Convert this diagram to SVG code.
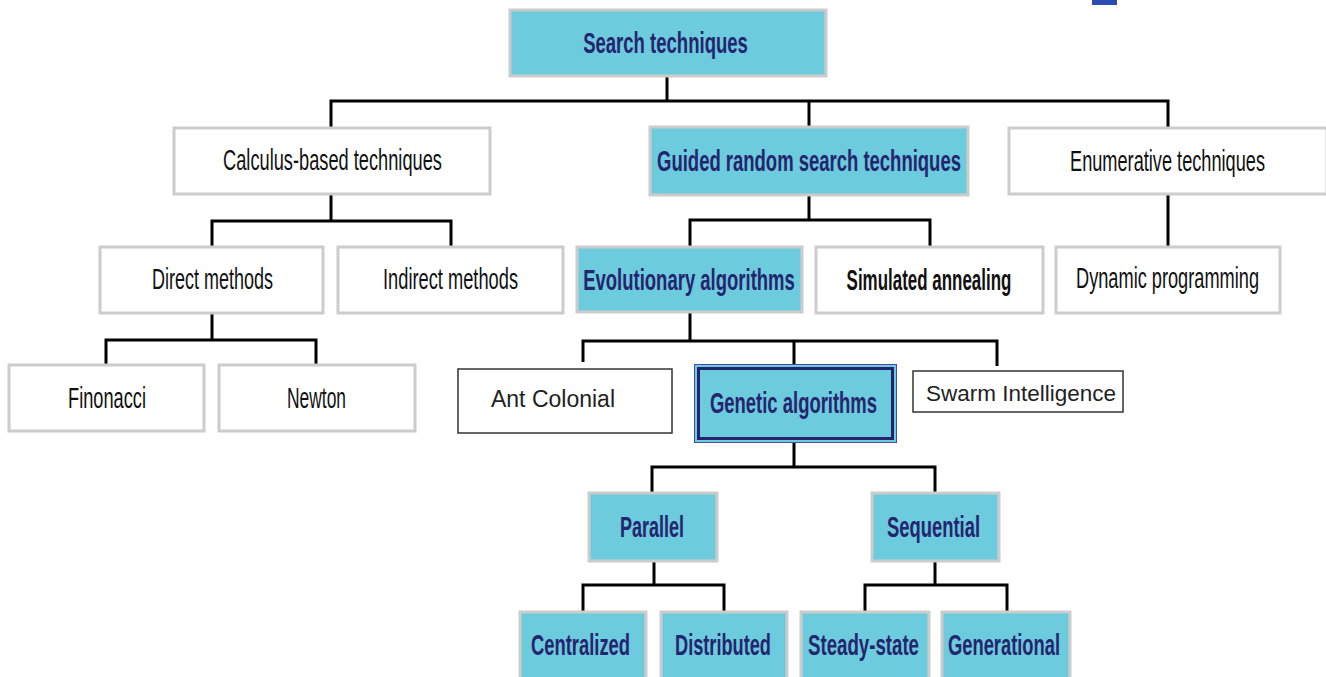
<svg xmlns="http://www.w3.org/2000/svg" width="1326" height="677" viewBox="0 0 1326 677">
  <defs>
    <style>
      .box-w { fill: #ffffff; stroke: #cccccc; stroke-width: 3; }
      .box-c { fill: #6ccbdc; stroke: #cccccc; stroke-width: 3; }
      .box-t { fill: #ffffff; stroke: #333333; stroke-width: 1.5; }
      text { font-family: "Liberation Sans", Arial, sans-serif; text-anchor: middle; }
      .lbl { font-size: 30px; fill: #111111; }
      .lbl-b { font-size: 30px; font-weight: bold; fill: #25256f; }
      .lbl-k { font-size: 30px; font-weight: bold; fill: #111111; }
      .lbl-r { fill: #222222; }
      .wire { fill: none; stroke: #000000; stroke-width: 3; stroke-linejoin: miter; }
    </style>
  </defs>
  <rect width="1326" height="677" fill="#ffffff"/>

  <!-- small corner mark -->
  <rect x="1092" y="0" width="25" height="5" fill="#2b4db2"/>

  <g id="connectors">
    <path class="wire" d="M667 76 V101"/>
    <path class="wire" d="M331 127 V101 H1168 V127"/>
    <path class="wire" d="M809 101 V127"/>
    <path class="wire" d="M331 194 V221"/>
    <path class="wire" d="M212 247 V221 H451 V247"/>
    <path class="wire" d="M809 195 V220"/>
    <path class="wire" d="M690 247 V220 H930 V247"/>
    <path class="wire" d="M1168 194 V247"/>
    <path class="wire" d="M212 313 V340"/>
    <path class="wire" d="M106 365 V340 H316 V365"/>
    <path class="wire" d="M690 312 V341"/>
    <path class="wire" d="M583 362 V341 H997 V366"/>
    <path class="wire" d="M794 341 V364"/>
    <path class="wire" d="M794 443 V467"/>
    <path class="wire" d="M652 493 V467 H935 V493"/>
    <path class="wire" d="M654 561 V585"/>
    <path class="wire" d="M583 612 V585 H724 V612"/>
    <path class="wire" d="M935 561 V585"/>
    <path class="wire" d="M865 612 V585 H1007 V612"/>
  </g>

  <!-- condensed labels: 30px type squeezed horizontally -->
  <g id="search-techniques">
    <rect class="box-c" x="510" y="10" width="316" height="66"/>
    <text class="lbl-b" transform="translate(665.5 53) scale(0.618 1)">Search techniques</text>
  </g>

  <g id="calculus-based">
    <rect class="box-w" x="174" y="128" width="316" height="66"/>
    <text class="lbl" transform="translate(332.5 170) scale(0.608 1)">Calculus-based techniques</text>
  </g>

  <g id="guided-random">
    <rect class="box-c" x="650" y="127" width="318" height="68"/>
    <text class="lbl-b" transform="translate(809 171) scale(0.616 1)">Guided random search techniques</text>
  </g>

  <g id="enumerative">
    <rect class="box-w" x="1009" y="128" width="318" height="66"/>
    <text class="lbl" transform="translate(1167.5 171) scale(0.606 1)">Enumerative techniques</text>
  </g>

  <g id="direct-methods">
    <rect class="box-w" x="100" y="247" width="223" height="66"/>
    <text class="lbl" transform="translate(212.5 289) scale(0.6 1)">Direct methods</text>
  </g>

  <g id="indirect-methods">
    <rect class="box-w" x="338" y="247" width="225" height="66"/>
    <text class="lbl" transform="translate(450.5 289) scale(0.609 1)">Indirect methods</text>
  </g>

  <g id="evolutionary">
    <rect class="box-c" x="577" y="247" width="225" height="65"/>
    <text class="lbl-b" transform="translate(689 290) scale(0.617 1)">Evolutionary algorithms</text>
  </g>

  <g id="simulated-annealing">
    <rect class="box-w" x="816" y="247" width="227" height="66"/>
    <text class="lbl-k" transform="translate(929 290) scale(0.565 1)">Simulated annealing</text>
  </g>

  <g id="dynamic-programming">
    <rect class="box-w" x="1056" y="247" width="224" height="66"/>
    <text class="lbl" transform="translate(1167.5 288) scale(0.607 1)">Dynamic programming</text>
  </g>

  <g id="finonacci">
    <rect class="box-w" x="9" y="365" width="195" height="66"/>
    <text class="lbl" transform="translate(107 408) scale(0.608 1)">Finonacci</text>
  </g>

  <g id="newton">
    <rect class="box-w" x="219" y="365" width="196" height="66"/>
    <text class="lbl" transform="translate(316.5 408) scale(0.58 1)">Newton</text>
  </g>

  <g id="ant-colonial">
    <rect class="box-t" x="458" y="369" width="214" height="64"/>
    <text class="lbl-r" x="553" y="407" font-size="23">Ant Colonial</text>
  </g>

  <g id="genetic-algorithms">
    <rect x="694.5" y="364.5" width="202" height="78" fill="#6ccbdc" stroke="#4a4aa8" stroke-width="1"/>
    <rect x="698.5" y="368.5" width="194" height="70" fill="none" stroke="#23236e" stroke-width="3"/>
    <text class="lbl-b" transform="translate(793.5 413) scale(0.615 1)">Genetic algorithms</text>
  </g>

  <g id="swarm-intelligence">
    <rect class="box-t" x="913" y="371" width="210" height="41"/>
    <text class="lbl-r" x="1021" y="401" font-size="22.5">Swarm Intelligence</text>
  </g>

  <g id="parallel">
    <rect class="box-c" x="589" y="493" width="128" height="68"/>
    <text class="lbl-b" transform="translate(652 537) scale(0.6 1)">Parallel</text>
  </g>

  <g id="sequential">
    <rect class="box-c" x="872" y="493" width="127" height="68"/>
    <text class="lbl-b" transform="translate(933.5 537) scale(0.613 1)">Sequential</text>
  </g>

  <g id="centralized">
    <rect class="box-c" x="520" y="612" width="126" height="80"/>
    <text class="lbl-b" transform="translate(580.5 655) scale(0.613 1)">Centralized</text>
  </g>

  <g id="distributed">
    <rect class="box-c" x="661" y="612" width="126" height="80"/>
    <text class="lbl-b" transform="translate(723 655) scale(0.606 1)">Distributed</text>
  </g>

  <g id="steady-state">
    <rect class="box-c" x="801" y="612" width="128" height="80"/>
    <text class="lbl-b" transform="translate(863.5 655) scale(0.622 1)">Steady-state</text>
  </g>

  <g id="generational">
    <rect class="box-c" x="942" y="612" width="128" height="80"/>
    <text class="lbl-b" transform="translate(1004 655) scale(0.611 1)">Generational</text>
  </g>
</svg>
